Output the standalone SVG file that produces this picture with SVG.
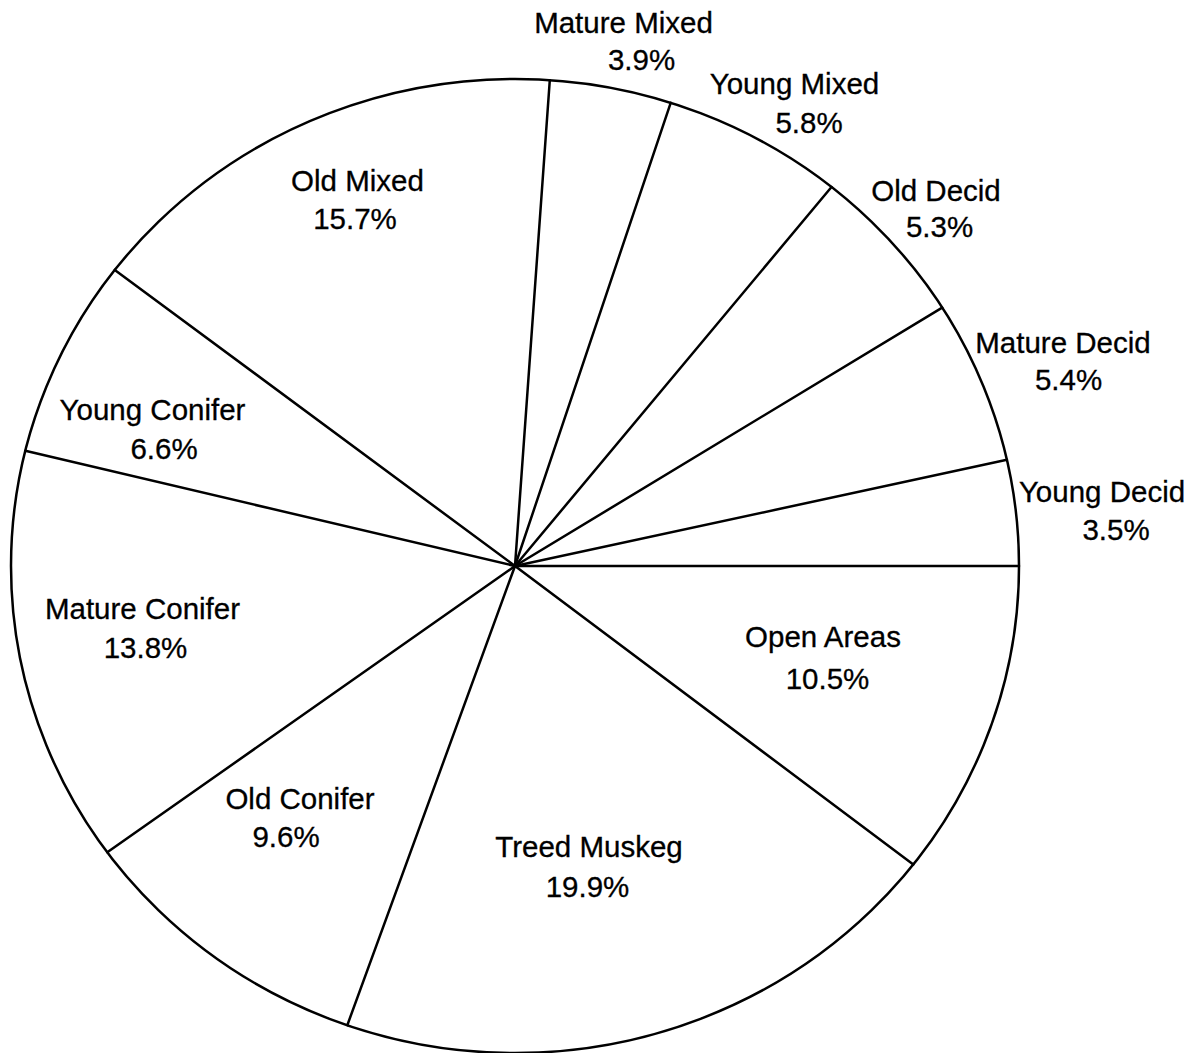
<svg xmlns="http://www.w3.org/2000/svg" width="1195" height="1053" viewBox="0 0 1195 1053">
<style>
.edge{fill:none;stroke:#000;stroke-width:2.5;stroke-linecap:round}
text{font-family:"Liberation Sans",Arial,sans-serif;font-size:29.5px;fill:#000;text-anchor:middle;stroke:#000;stroke-width:0.3}
</style>
<rect width="1195" height="1053" fill="#fff"/>
<g id="connectors">
<ellipse class="edge" cx="515" cy="566" rx="504" ry="487"/>
<line class="edge" x1="515" y1="566" x2="1019" y2="566"/>
<line class="edge" x1="515" y1="566" x2="913.3" y2="864.5"/>
<line class="edge" x1="515" y1="566" x2="347.3" y2="1025.2"/>
<line class="edge" x1="515" y1="566" x2="107.3" y2="852.3"/>
<line class="edge" x1="515" y1="566" x2="25.3" y2="450.8"/>
<line class="edge" x1="515" y1="566" x2="114.8" y2="269.9"/>
<line class="edge" x1="515" y1="566" x2="549.8" y2="80.2"/>
<line class="edge" x1="515" y1="566" x2="670.7" y2="102.8"/>
<line class="edge" x1="515" y1="566" x2="831.5" y2="187"/>
<line class="edge" x1="515" y1="566" x2="942.2" y2="307.6"/>
<line class="edge" x1="515" y1="566" x2="1006.9" y2="459.8"/>
</g>
<g id="open-areas"><text x="823" y="647">Open Areas</text><text x="827.5" y="689">10.5%</text></g>
<g id="treed-muskeg"><text x="589" y="857">Treed Muskeg</text><text x="587.5" y="897">19.9%</text></g>
<g id="old-conifer"><text x="300" y="809">Old Conifer</text><text x="286" y="847">9.6%</text></g>
<g id="mature-conifer"><text x="142.5" y="619">Mature Conifer</text><text x="145.5" y="658">13.8%</text></g>
<g id="young-conifer"><text x="152.5" y="420">Young Conifer</text><text x="164" y="459">6.6%</text></g>
<g id="old-mixed"><text x="357.5" y="191">Old Mixed</text><text x="355" y="229">15.7%</text></g>
<g id="mature-mixed"><text x="623.5" y="33">Mature Mixed</text><text x="641.5" y="70">3.9%</text></g>
<g id="young-mixed"><text x="794.5" y="94">Young Mixed</text><text x="809" y="133">5.8%</text></g>
<g id="old-decid"><text x="936" y="201">Old Decid</text><text x="939.5" y="237">5.3%</text></g>
<g id="mature-decid"><text x="1063" y="353">Mature Decid</text><text x="1068.5" y="390">5.4%</text></g>
<g id="young-decid"><text x="1102" y="502">Young Decid</text><text x="1116" y="540">3.5%</text></g>
</svg>
